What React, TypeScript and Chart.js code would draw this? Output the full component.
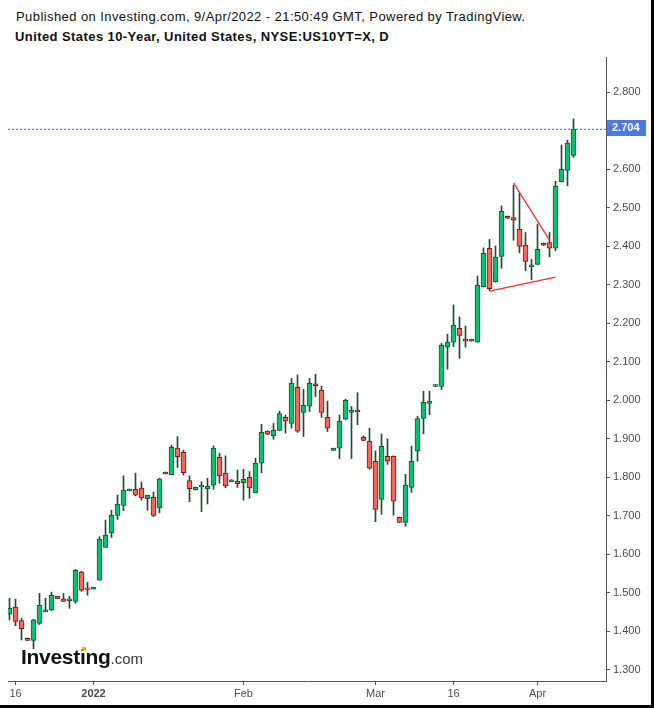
import React, { useEffect, useRef } from "react";
import { Chart, registerables } from "chart.js";

Chart.register(...registerables);

// Daily candles (index 0 = 15 Dec 2021 ... index 94 = 8 Apr 2022)
const opens = [
  1.445, 1.463, 1.428, 1.382, 1.377, 1.421, 1.451, 1.456, 1.491, 1.485,
  1.480, 1.478, 1.554, 1.513, 1.510, 1.533, 1.618, 1.656, 1.701, 1.727,
  1.765, 1.769, 1.772, 1.745, 1.748, 1.721, 1.814, 1.807, 1.876, 1.865,
  1.792, 1.768, 1.775, 1.771, 1.780, 1.852, 1.811, 1.789, 1.790, 1.786,
  1.800, 1.760, 1.837, 1.920, 1.908, 1.922, 1.956, 1.940, 2.034, 1.969,
  1.985, 2.043, 2.026, 1.956, 1.870, 1.876, 1.951, 1.969, 1.975, 1.904,
  1.894, 1.842, 1.743, 1.855, 1.855, 1.696, 1.683, 1.774, 1.868, 1.953,
  1.992, 2.036, 2.036, 2.138, 2.151, 2.187, 2.159, 2.154, 2.151, 2.295,
  2.395, 2.308, 2.374, 2.478, 2.475, 2.444, 2.403, 2.347, 2.353, 2.408,
  2.410, 2.395, 2.568, 2.597, 2.636,
];
const highs = [
  1.486, 1.484, 1.434, 1.383, 1.432, 1.499, 1.486, 1.502, 1.491, 1.499,
  1.491, 1.561, 1.556, 1.528, 1.515, 1.646, 1.689, 1.715, 1.754, 1.804,
  1.770, 1.811, 1.788, 1.754, 1.762, 1.798, 1.814, 1.884, 1.906, 1.871,
  1.804, 1.775, 1.789, 1.798, 1.882, 1.863, 1.856, 1.794, 1.819, 1.821,
  1.815, 1.850, 1.938, 1.921, 1.940, 1.972, 1.962, 2.057, 2.066, 2.029,
  2.057, 2.068, 2.037, 1.998, 1.876, 1.962, 2.003, 1.984, 2.020, 1.908,
  1.928, 1.869, 1.913, 1.900, 1.856, 1.697, 1.808, 1.881, 1.959, 2.024,
  2.024, 2.041, 2.148, 2.172, 2.248, 2.217, 2.193, 2.159, 2.323, 2.396,
  2.418, 2.401, 2.505, 2.479, 2.559, 2.538, 2.436, 2.366, 2.458, 2.409,
  2.436, 2.569, 2.663, 2.676, 2.731,
];
const lows = [
  1.430, 1.415, 1.378, 1.376, 1.355, 1.418, 1.451, 1.454, 1.485, 1.478,
  1.460, 1.473, 1.504, 1.494, 1.510, 1.533, 1.618, 1.644, 1.691, 1.714,
  1.765, 1.752, 1.741, 1.715, 1.698, 1.708, 1.809, 1.807, 1.826, 1.806,
  1.737, 1.767, 1.711, 1.731, 1.769, 1.785, 1.773, 1.789, 1.774, 1.741,
  1.746, 1.760, 1.812, 1.911, 1.899, 1.921, 1.915, 1.928, 1.917, 1.906,
  1.971, 2.010, 1.956, 1.919, 1.870, 1.849, 1.950, 1.849, 1.937, 1.895,
  1.821, 1.685, 1.704, 1.834, 1.702, 1.682, 1.673, 1.761, 1.842, 1.913,
  1.963, 2.036, 2.028, 2.081, 2.140, 2.109, 2.138, 2.154, 2.151, 2.294,
  2.285, 2.307, 2.343, 2.472, 2.416, 2.383, 2.337, 2.313, 2.352, 2.402,
  2.373, 2.389, 2.567, 2.557, 2.631,
];
const closes = [
  1.460, 1.426, 1.407, 1.377, 1.430, 1.468, 1.456, 1.494, 1.485, 1.478,
  1.485, 1.559, 1.507, 1.509, 1.515, 1.639, 1.650, 1.702, 1.731, 1.767,
  1.770, 1.754, 1.747, 1.754, 1.701, 1.796, 1.809, 1.878, 1.854, 1.812,
  1.771, 1.774, 1.780, 1.777, 1.876, 1.804, 1.778, 1.794, 1.784, 1.795,
  1.773, 1.837, 1.917, 1.912, 1.922, 1.966, 1.946, 2.044, 1.920, 1.987,
  2.044, 2.038, 1.969, 1.928, 1.876, 1.946, 2.000, 1.974, 1.970, 1.896,
  1.824, 1.717, 1.881, 1.842, 1.738, 1.683, 1.780, 1.842, 1.953, 1.995,
  1.998, 2.041, 2.143, 2.151, 2.195, 2.169, 2.154, 2.159, 2.299, 2.382,
  2.290, 2.372, 2.491, 2.473, 2.468, 2.400, 2.361, 2.352, 2.392, 2.403,
  2.395, 2.556, 2.600, 2.668, 2.704,
];

const xTickIndex = [1, 14, 39, 61, 74, 88];
const xTickLabels = ["16", "2022", "Feb", "Mar", "16", "Apr"];
const yTickValues = [1.3, 1.4, 1.5, 1.6, 1.7, 1.8, 1.9, 2.0, 2.1, 2.2, 2.3, 2.4, 2.5, 2.6, 2.8];
const lastPrice = 2.704;

// Drawn trend lines (triangle)
const upperLineX = [84, 90];
const upperLineY = [2.565, 2.416];
const lowerLineX = [80, 91];
const lowerLineY = [2.284, 2.32];

const X_MIN = -0.25;
const X_MAX = 99.4167;
const Y_MIN = 1.2713;
const Y_MAX = 2.8917;

const GREEN = "#0bc06f";
const GREEN_EDGE = "#1b5636";
const RED = "#ff6459";
const RED_EDGE = "#6e1d1d";
const WICK = "#1d4b33";
const AXIS = "#555555";
const FONT = "'Liberation Sans', Arial, Helvetica, sans-serif";

const priceTag = {
  id: "priceTag",
  afterDraw(chart: any) {
    const { ctx, scales } = chart;
    const y = scales.y.getPixelForValue(lastPrice);
    ctx.save();
    ctx.fillStyle = "#4d79e6";
    ctx.fillRect(607, Math.round(y) - 9, 39, 16);
    ctx.fillStyle = "#ffffff";
    ctx.font = `bold 11px ${FONT}`;
    ctx.textBaseline = "middle";
    ctx.textAlign = "left";
    ctx.fillText(lastPrice.toFixed(3), 612, Math.round(y) - 1);
    ctx.restore();
  },
};

export default function App() {
  const canvasRef = useRef<HTMLCanvasElement | null>(null);

  useEffect(() => {
    document.body.style.margin = "0";
    const canvas = canvasRef.current;
    if (!canvas) return;
    const idx = opens.map((_, i) => i);
    const up = (i: number) => closes[i] >= opens[i];

    const chart = new Chart(canvas, {
      type: "bar",
      data: {
        datasets: [
          {
            type: "line",
            data: [
              { x: X_MIN, y: lastPrice },
              { x: X_MAX, y: lastPrice },
            ],
            borderColor: "#2962ff",
            borderWidth: 1,
            borderDash: [2, 2],
            pointRadius: 0,
            order: 0,
          } as any,
          {
            type: "line",
            data: upperLineX.map((x, k) => ({ x, y: upperLineY[k] })),
            borderColor: "#ff2e2e",
            borderWidth: 1.3,
            pointRadius: 0,
            order: 1,
          } as any,
          {
            type: "line",
            data: lowerLineX.map((x, k) => ({ x, y: lowerLineY[k] })),
            borderColor: "#ff2e2e",
            borderWidth: 1.3,
            pointRadius: 0,
            order: 1,
          } as any,
          {
            type: "bar",
            data: idx.map((i) => ({ x: i, y: [opens[i], closes[i]] })),
            backgroundColor: idx.map((i) => (up(i) ? GREEN : RED)),
            borderColor: idx.map((i) => (up(i) ? GREEN_EDGE : RED_EDGE)),
            borderWidth: 1,
            borderSkipped: false,
            barThickness: 5,
            grouped: false,
            order: 2,
          } as any,
          {
            type: "bar",
            data: idx.map((i) => ({ x: i, y: [lows[i], highs[i]] })),
            backgroundColor: WICK,
            borderWidth: 0,
            barThickness: 1,
            grouped: false,
            order: 3,
          } as any,
        ],
      },
      options: {
        animation: false,
        responsive: false,
        maintainAspectRatio: false,
        layout: { padding: { left: 8, top: 57, right: 0, bottom: 0 } },
        plugins: {
          legend: { display: false },
          tooltip: { enabled: false },
        },
        scales: {
          x: {
            type: "linear",
            min: X_MIN,
            max: X_MAX,
            offset: false,
            afterBuildTicks: (scale: any) => {
              scale.ticks = xTickIndex.map((v) => ({ value: v }));
            },
            afterFit: (scale: any) => {
              scale.height = 27;
            },
            grid: {
              display: true,
              drawOnChartArea: false,
              drawTicks: true,
              tickLength: 4,
              color: AXIS,
              offset: false,
            },
            border: { display: true, color: AXIS, width: 1 },
            ticks: {
              autoSkip: false,
              maxRotation: 0,
              padding: 2,
              color: "#4d4d4d",
              font: (ctx: any) =>
                ctx.tick && ctx.tick.value === 14
                  ? { family: FONT, size: 11, weight: "bold" }
                  : { family: FONT, size: 11 },
              callback: (value: any) => {
                const k = xTickIndex.indexOf(Number(value));
                return k >= 0 ? xTickLabels[k] : "";
              },
            },
          },
          y: {
            type: "linear",
            position: "right",
            min: Y_MIN,
            max: Y_MAX,
            afterBuildTicks: (scale: any) => {
              scale.ticks = yTickValues.map((v) => ({ value: v }));
            },
            afterFit: (scale: any) => {
              scale.width = 48;
            },
            grid: {
              display: true,
              drawOnChartArea: false,
              drawTicks: true,
              tickLength: 4,
              color: AXIS,
            },
            border: { display: true, color: AXIS, width: 1 },
            ticks: {
              padding: 3,
              color: "#4d4d4d",
              font: { family: FONT, size: 11 },
              callback: (value: any) => Number(value).toFixed(3),
            },
          },
        },
      },
      plugins: [priceTag],
    } as any);

    return () => {
      chart.destroy();
    };
  }, []);

  return (
    <div
      style={{
        position: "fixed",
        left: 0,
        top: 0,
        width: 654,
        height: 708,
        background: "#000",
        fontFamily: FONT,
      }}
    >
      <div
        style={{
          position: "absolute",
          left: 0,
          top: 0,
          width: 651,
          height: 705,
          background: "#fff",
        }}
      />
      <div
        style={{
          position: "absolute",
          left: 16,
          top: 9,
          fontSize: 13,
          lineHeight: "15px",
          letterSpacing: "0.42px",
          color: "#111",
          whiteSpace: "nowrap",
        }}
      >
        Published on Investing.com, 9/Apr/2022 - 21:50:49 GMT, Powered by TradingView.
      </div>
      <div
        style={{
          position: "absolute",
          left: 15,
          top: 29,
          fontSize: 13,
          lineHeight: "15px",
          letterSpacing: "0.42px",
          fontWeight: "bold",
          color: "#111",
          whiteSpace: "nowrap",
        }}
      >
        United States 10-Year, United States, NYSE:US10YT=X, D
      </div>
      <canvas
        ref={canvasRef}
        width={654}
        height={708}
        style={{ position: "absolute", left: 0, top: 0, width: 654, height: 708 }}
      />
      <div
        style={{
          position: "absolute",
          left: 21,
          top: 646,
          lineHeight: "22px",
          whiteSpace: "nowrap",
          color: "#111",
        }}
      >
        <span style={{ fontSize: 21, fontWeight: "bold", letterSpacing: "-0.3px" }}>Investing</span>
        <span style={{ fontSize: 15, color: "#333" }}>.com</span>
      </div>
      <div
        style={{
          position: "absolute",
          left: 82,
          top: 647,
          width: 4,
          height: 4,
          background: "#f7a21b",
          borderRadius: 1,
        }}
      />
    </div>
  );
}
